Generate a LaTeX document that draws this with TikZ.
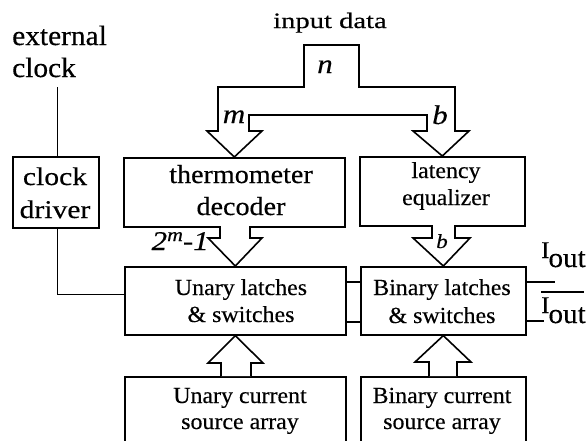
\documentclass[tikz,border=0pt]{standalone}
\usepackage{fontspec}
\setmainfont{Liberation Serif}
\newfontfamily\fExt[FakeStretch=1.05,FakeBold=0.4]{Liberation Serif}
\newfontfamily\fIn[FakeStretch=1.3,FakeBold=0.4]{Liberation Serif}
\newfontfamily\fClk[FakeStretch=1.16,FakeBold=0.4]{Liberation Serif}
\newfontfamily\fTh[FakeStretch=1.08,FakeBold=0.4]{Liberation Serif}
\newfontfamily\fBox[FakeStretch=1.04,FakeBold=0.3]{Liberation Serif}
\newfontfamily\fIt[FakeStretch=1.15,FakeBold=0.4]{Liberation Serif}
\usetikzlibrary{calc}
\begin{document}
\begin{tikzpicture}[x=1pt,y=-1pt,
  blk/.style={draw, line width=1.6pt, inner sep=0pt, anchor=north west},
  bus/.style={draw, line width=1.6pt, fill=white, line join=miter},
  wire/.style={draw, line width=1pt},
  txt/.style={inner sep=0pt, anchor=base},
  ftExt/.style={font=\fExt\fontsize{28}{30}\selectfont},
  ftIn/.style={font=\fIn\fontsize{22}{24}\selectfont},
  ftClk/.style={font=\fClk\fontsize{25.5}{28}\selectfont},
  ftTh/.style={font=\fTh\fontsize{26}{28}\selectfont},
  ftBox/.style={font=\fBox\fontsize{23}{25}\selectfont},
  ftIt/.style={font=\fIt\itshape\fontsize{27}{29}\selectfont},
  ftOut/.style={font=\fBox\fontsize{24}{26}\selectfont},
]
\useasboundingbox (0,0) rectangle (586,440);
\clip (0,0) rectangle (586,440);
\fill[white] (0,0) rectangle (586,440);

% boxes
\node[blk, minimum width=86pt, minimum height=71pt] (clk) at (12,156) {};
\node[blk, minimum width=221pt, minimum height=69pt] (th) at (123,157) {};
\node[blk, minimum width=165pt, minimum height=69pt] (lat) at (359,156) {};
\node[blk, minimum width=221pt, minimum height=68pt] (un) at (124,266) {};
\node[blk, minimum width=165pt, minimum height=68pt] (bin) at (360,266) {};
\node[blk, minimum width=221pt, minimum height=90pt] (ucs) at (124,376) {};
\node[blk, minimum width=165pt, minimum height=90pt] (bcs) at (360,376) {};

% texts
\node[txt, ftExt, anchor=base west] (ext1) at (12,45) {external};
\node[txt, ftExt, anchor=base west] (ext2) at (12,77) {clock};
\node[txt, ftIn] (in) at (330,28) {input data};
\node[txt, ftClk] (clk1) at (55,185) {clock};
\node[txt, ftClk] (clk2) at (55,218) {driver};
\node[txt, ftTh] (th1) at (241,183) {thermometer};
\node[txt, ftTh] (th2) at (241,215) {decoder};
\node[txt, ftBox] (lat1) at (446,178) {latency};
\node[txt, ftBox] (lat2) at (446,205) {equalizer};
\node[txt, ftBox] (un1) at (241,295) {Unary latches};
\node[txt, ftBox] (un2) at (241,322) {\&\ switches};
\node[txt, ftBox] (bin1) at (442,295) {Binary latches};
\node[txt, ftBox] (bin2) at (442,323) {\&\ switches};
\node[txt, ftBox] (ucs1) at (240,403) {Unary current};
\node[txt, ftBox] (ucs2) at (240,429) {source array};
\node[txt, ftBox] (bcs1) at (442,403) {Binary current};
\node[txt, ftBox] (bcs2) at (442,429) {source array};

% input bus
\draw[bus] (218,131) -- (218,87) -- (304,87) -- (304,45) -- (359,45) -- (359,87)
  -- (455,87) -- (455,131) -- (469,131) -- (lat.north) -- (413,131) -- (427,131)
  -- (427,115) -- (249,115) -- (249,131) -- (262,131) -- (th.north) -- (207,131) -- cycle;
\node[txt, ftIt] (nl) at (325,73) {n};
\node[txt, ftIt] (ml) at (234,123) {m};
\node[txt, ftIt] (bl) at (440,124) {b};

% decoder to unary
\draw[bus] (220,226) -- (220,238) -- (208,238) -- (un.north) -- (262,238) -- (250,238) -- (250,226);
\node[txt, ftIt, anchor=base east] (ml2) at (209,250) {2\raisebox{9pt}{\fontsize{19}{19}\selectfont m}-1};
% equalizer to binary
\draw[bus] (432,225) -- (432,238) -- (413,238) -- (bin.north) -- (470,238) -- (455,238) -- (455,225);
\node[txt, font=\fIt\itshape\fontsize{20}{22}\selectfont] (bl2) at (442,248) {b};
% current sources up
\draw[bus] (221,376) -- (221,363) -- (208,363) -- (un.south) -- (263,363) -- (251,363) -- (251,376);
\draw[bus] (429,376) -- (429,362) -- (415,362) -- (bin.south) -- (471,362) -- (457,362) -- (457,376);

% clock wiring
\coordinate (ck) at (57,87);
\draw[wire] (ck) -- (ck |- clk.north);
\draw[wire] (ck |- clk.south) |- ([yshift=-28pt]un.north west);

% unary-binary links
\draw[line width=1.2pt] ([yshift=-16pt]un.north east) -- ([yshift=-16pt]bin.north west);
\draw[line width=1.2pt] ([yshift=-56pt]un.north east) -- ([yshift=-56pt]bin.north west);

% outputs
\draw[line width=1.2pt] ([yshift=-16pt]bin.north east) -- ++(28,0) coordinate (o1);
\draw[line width=1.2pt] ([yshift=-55pt]bin.north east) -- ++(17,0) coordinate (o2);
\node[txt, ftOut, anchor=base west] (io1) at (541,258) {I\hspace{-1pt}\raisebox{-9pt}{\fontsize{28}{28}\selectfont out}};
\node[txt, ftOut, anchor=base west] (io2) at (541,313) {I\hspace{-1pt}\raisebox{-10pt}{\fontsize{28}{28}\selectfont out}};
\draw[line width=1.2pt] (541,292) -- (584,292);
\end{tikzpicture}
\end{document}
